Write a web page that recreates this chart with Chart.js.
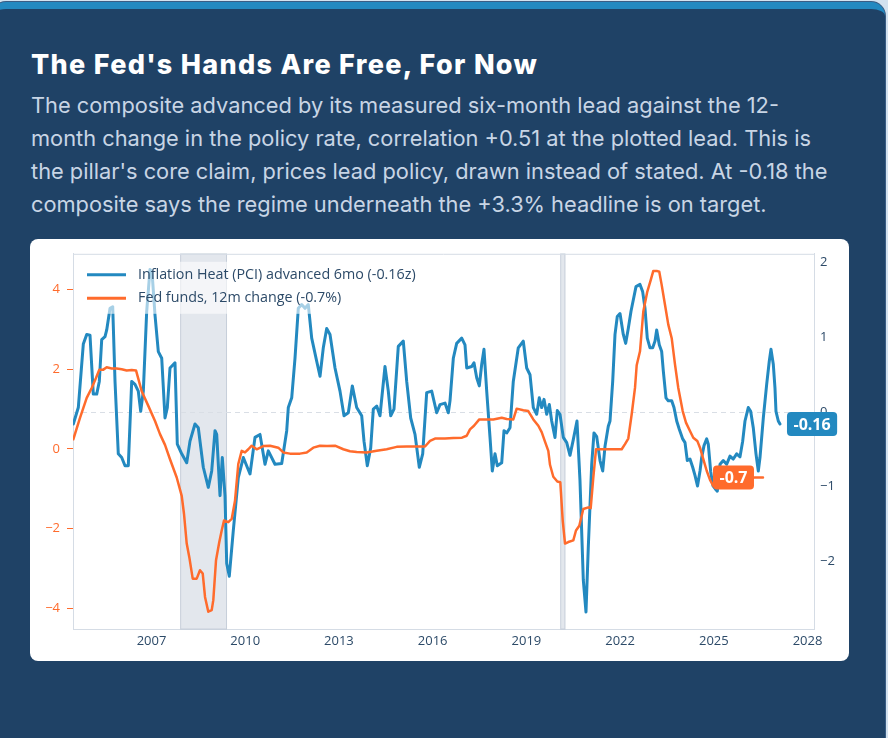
<!DOCTYPE html>
<html>
<head>
<meta charset="utf-8">
<script src="https://cdn.jsdelivr.net/npm/chart.js@4.4.1/dist/chart.umd.min.js"></script>
<style>
  html, body { margin: 0; padding: 0; }
  body { width: 888px; height: 738px; overflow: hidden; background: #d3e2ef; position: relative; font-family: Inter, "Open Sans", sans-serif; }
  .card { position: absolute; left: -8px; top: 2px; width: 893px; height: 780px; background: #1f4266; border-top: 7px solid #2389c0; border-radius: 14px; box-shadow: 0 0 0 1px #3a5d84; }
  h1 { position: absolute; left: 31px; top: 48px; margin: 0; font-size: 27px; font-weight: 800; color: #ffffff; white-space: nowrap; letter-spacing: 1.3px; }
  .sub { position: absolute; left: 31px; top: 89px; margin: 0; font-size: 21.8px; line-height: 33px; color: #c8d5e5; white-space: nowrap; }
  .chart-box { position: absolute; left: 30px; top: 239px; width: 819px; height: 422px; background: #ffffff; border-radius: 8px; }
</style>
</head>
<body>
<div class="card"></div>
<h1>The Fed's Hands Are Free, For Now</h1>
<p class="sub">The composite advanced by its measured six-month lead against the 12-<br>month change in the policy rate, correlation +0.51 at the plotted lead. This is<br>the pillar's core claim, prices lead policy, drawn instead of stated. At -0.18 the<br>composite says the regime underneath the +3.3% headline is on target.</p>
<div class="chart-box"><canvas id="leadChart"></canvas></div>

<script>
// Inflation Heat composite (z-score, advanced 6 months) - decimal years
const pciYears = [2004.497, 2004.657, 2004.817, 2004.926, 2005.031, 2005.137, 2005.246, 2005.329, 2005.406, 2005.512,
  2005.566, 2005.672, 2005.758, 2005.832, 2005.937, 2006.046, 2006.152, 2006.257, 2006.366, 2006.472,
  2006.577, 2006.654, 2006.738, 2006.846, 2006.952, 2007.016, 2007.112, 2007.218, 2007.327, 2007.432,
  2007.506, 2007.592, 2007.752, 2007.826, 2007.967, 2008.127, 2008.232, 2008.392, 2008.498, 2008.658,
  2008.818, 2008.927, 2009.033, 2009.087, 2009.193, 2009.266, 2009.353, 2009.407, 2009.490, 2009.618,
  2009.778, 2009.939, 2010.153, 2010.313, 2010.473, 2010.633, 2010.739, 2010.953, 2011.168, 2011.328,
  2011.379, 2011.488, 2011.593, 2011.699, 2011.808, 2011.914, 2012.019, 2012.128, 2012.288, 2012.394,
  2012.499, 2012.608, 2012.714, 2012.874, 2013.034, 2013.162, 2013.300, 2013.428, 2013.568, 2013.729,
  2013.802, 2013.908, 2014.017, 2014.100, 2014.209, 2014.314, 2014.474, 2014.580, 2014.657, 2014.762,
  2014.900, 2015.060, 2015.169, 2015.297, 2015.435, 2015.572, 2015.681, 2015.809, 2015.969, 2016.129,
  2016.235, 2016.395, 2016.501, 2016.555, 2016.661, 2016.769, 2016.930, 2017.035, 2017.090, 2017.250,
  2017.323, 2017.410, 2017.493, 2017.570, 2017.643, 2017.730, 2017.836, 2017.909, 2017.996, 2018.069,
  2018.210, 2018.284, 2018.370, 2018.476, 2018.581, 2018.741, 2018.901, 2019.010, 2019.116, 2019.222,
  2019.330, 2019.413, 2019.490, 2019.564, 2019.650, 2019.734, 2019.810, 2019.916, 2019.990, 2020.076,
  2020.182, 2020.291, 2020.396, 2020.502, 2020.620, 2020.716, 2020.822, 2020.908, 2020.982, 2021.091,
  2021.164, 2021.251, 2021.357, 2021.443, 2021.517, 2021.622, 2021.677, 2021.763, 2021.837, 2021.910,
  2021.997, 2022.102, 2022.179, 2022.262, 2022.349, 2022.422, 2022.509, 2022.637, 2022.723, 2022.797,
  2022.870, 2022.957, 2023.043, 2023.117, 2023.171, 2023.254, 2023.331, 2023.383, 2023.469, 2023.543,
  2023.652, 2023.725, 2023.812, 2023.895, 2024.004, 2024.078, 2024.151, 2024.237, 2024.324, 2024.397,
  2024.478, 2024.558, 2024.612, 2024.686, 2024.772, 2024.823, 2024.900, 2024.974, 2025.047, 2025.112,
  2025.198, 2025.303, 2025.412, 2025.518, 2025.623, 2025.732, 2025.838, 2025.924, 2025.998, 2026.103,
  2026.180, 2026.263, 2026.350, 2026.424, 2026.478, 2026.584, 2026.692, 2026.775, 2026.830, 2026.904,
  2026.958, 2026.990, 2027.064, 2027.118];
const pciValues = [-0.16, 0.06, 0.91, 1.04, 1.03, 0.24, 0.24, 0.41, 0.97, 1.01,
  1.10, 1.39, 1.41, 0.41, -0.56, -0.61, -0.72, -0.72, 0.41, 0.37,
  0.28, 0.01, 0.28, 1.35, 1.91, 1.88, 1.30, 0.81, 0.72, -0.08,
  0.06, 0.59, 0.66, -0.43, -0.56, -0.68, -0.39, -0.16, -0.21, -0.74,
  -1.01, -0.79, -0.25, -0.30, -1.12, -0.61, -1.12, -2.03, -2.20, -1.59,
  -0.88, -0.61, -0.83, -0.34, -0.30, -0.70, -0.52, -0.70, -0.69, -0.25,
  0.06, 0.19, 0.72, 1.39, 1.44, 1.39, 1.44, 0.99, 0.68, 0.48,
  0.86, 1.12, 1.04, 0.59, 0.28, -0.05, -0.01, 0.35, 0.06, -0.05,
  -0.39, -0.72, -0.48, 0.04, 0.08, -0.05, 0.61, 0.28, -0.05, 0.04,
  0.88, 0.95, 0.41, -0.08, -0.30, -0.74, -0.56, 0.26, 0.28, -0.01,
  0.10, 0.12, -0.01, 0.15, 0.72, 0.92, 0.99, 0.90, 0.59, 0.61,
  0.66, 0.46, 0.35, 0.64, 0.84, 0.28, -0.34, -0.79, -0.56, -0.72,
  -0.68, -0.25, -0.28, -0.21, 0.41, 0.86, 0.95, 0.59, 0.50, 0.06,
  -0.03, 0.19, 0.06, 0.17, -0.03, 0.10, -0.12, -0.34, 0.02, -0.03,
  -0.34, -0.41, -0.58, -0.37, -0.12, -0.92, -2.25, -2.68, -1.81, -0.70,
  -0.28, -0.33, -0.65, -0.79, -0.46, -0.19, -0.12, 0.41, 1.04, 1.28,
  1.32, 1.04, 0.92, 1.12, 1.35, 1.50, 1.68, 1.71, 1.61, 1.39,
  0.99, 0.86, 0.86, 0.95, 1.10, 0.90, 0.81, 0.55, 0.19, 0.15,
  0.15, 0.06, -0.12, -0.23, -0.36, -0.41, -0.65, -0.63, -0.74, -0.85,
  -0.99, -0.79, -0.61, -0.45, -0.36, -0.43, -0.80, -0.99, -1.03, -1.06,
  -0.70, -0.65, -0.70, -0.59, -0.63, -0.56, -0.60, -0.39, -0.12, 0.06,
  0.01, -0.21, -0.56, -0.79, -0.61, -0.08, 0.37, 0.68, 0.84, 0.64,
  0.32, 0.01, -0.12, -0.16];

// Fed funds rate, 12-month change (percentage points)
const fedYears = [2004.497, 2004.711, 2004.926, 2005.086, 2005.223, 2005.329, 2005.457, 2005.566, 2005.726, 2005.886,
  2006.046, 2006.206, 2006.366, 2006.504, 2006.686, 2006.898, 2007.112, 2007.272, 2007.432, 2007.592,
  2007.807, 2007.967, 2008.040, 2008.127, 2008.210, 2008.319, 2008.447, 2008.552, 2008.639, 2008.713,
  2008.818, 2008.927, 2008.978, 2009.065, 2009.170, 2009.247, 2009.321, 2009.458, 2009.567, 2009.673,
  2009.778, 2009.887, 2009.993, 2010.099, 2010.207, 2010.367, 2010.579, 2010.793, 2011.059, 2011.219,
  2011.433, 2011.753, 2011.968, 2012.179, 2012.394, 2012.618, 2012.874, 2013.140, 2013.354, 2013.568,
  2013.889, 2014.209, 2014.529, 2014.849, 2015.169, 2015.467, 2015.755, 2015.915, 2016.075, 2016.395,
  2016.661, 2016.939, 2017.090, 2017.195, 2017.323, 2017.493, 2017.730, 2017.941, 2018.210, 2018.370,
  2018.581, 2018.690, 2018.901, 2019.061, 2019.222, 2019.382, 2019.490, 2019.596, 2019.702, 2019.756,
  2019.862, 2019.990, 2020.086, 2020.163, 2020.237, 2020.342, 2020.502, 2020.588, 2020.694, 2020.822,
  2020.982, 2021.059, 2021.142, 2021.229, 2021.517, 2021.773, 2022.051, 2022.157, 2022.262, 2022.371,
  2022.477, 2022.531, 2022.637, 2022.743, 2022.871, 2022.980, 2023.063, 2023.172, 2023.254, 2023.331,
  2023.437, 2023.543, 2023.652, 2023.757, 2023.863, 2024.004, 2024.109, 2024.237, 2024.343, 2024.471,
  2024.558, 2024.663, 2024.772, 2024.878, 2024.983, 2025.102, 2025.358, 2025.678, 2025.998, 2026.318,
  2026.574];
const fedValues = [0.24, 0.78, 1.28, 1.53, 1.78, 1.99, 1.99, 2.05, 2.02, 2.02,
  2.00, 1.97, 1.98, 1.97, 1.45, 1.08, 0.70, 0.37, 0.10, -0.26,
  -0.72, -1.18, -1.63, -2.38, -2.72, -3.26, -3.26, -3.05, -3.13, -3.72,
  -4.09, -4.05, -3.80, -2.80, -2.34, -2.05, -1.80, -1.84, -1.76, -1.30,
  -0.38, -0.05, -0.09, -0.01, 0.08, -0.01, 0.07, 0.08, 0.03, -0.09,
  -0.12, -0.12, -0.09, 0.03, 0.08, 0.07, 0.08, -0.01, -0.06, -0.08,
  -0.09, -0.05, -0.01, 0.05, 0.06, 0.06, 0.06, 0.20, 0.26, 0.26,
  0.27, 0.28, 0.33, 0.49, 0.58, 0.74, 0.74, 0.74, 0.78, 0.75,
  0.74, 1.01, 0.97, 0.95, 0.74, 0.58, 0.42, 0.18, -0.05, -0.40,
  -0.70, -0.82, -0.84, -1.80, -2.38, -2.34, -2.30, -2.05, -1.93, -1.51,
  -1.47, -1.49, -0.72, -0.01, -0.01, -0.01, -0.01, 0.12, 0.26, 0.87,
  1.53, 2.10, 2.45, 3.45, 3.95, 4.24, 4.47, 4.47, 4.45, 4.12,
  3.62, 3.12, 2.78, 2.12, 1.53, 0.95, 0.66, 0.45, 0.28, 0.20,
  0.03, -0.26, -0.55, -0.78, -0.93, -0.95, -0.88, -0.80, -0.74, -0.72,
  -0.72];

// NBER recessions (shaded)
const recessionStarts = [2007.917, 2020.083];
const recessionEnds = [2009.417, 2020.25];

// Axis ticks
const xTicks = [2007, 2010, 2013, 2016, 2019, 2022, 2025, 2028];
const leftTicks = [-4, -2, 0, 2, 4];
const rightTicks = [-2, -1, 0, 1, 2];

const BLUE = '#2389c0';
const ORANGE = '#ff6b2c';
const FRAME = '#d5dce5';
const INK = '#2c4a68';
const FONT = '"Open Sans", "Noto Sans", sans-serif';

function minus(v) {
  return v < 0 ? '\u2212' + Math.abs(v) : String(v);
}

function toPoints(xs, ys) {
  return xs.map((x, i) => ({ x: x, y: ys[i] }));
}

// Shading, zero line, legend and end labels
const overlayPlugin = {
  id: 'overlay',
  beforeDatasetsDraw(chart) {
    const { ctx, chartArea: a, scales } = chart;
    ctx.save();
    recessionStarts.forEach((s, i) => {
      const x0 = scales.x.getPixelForValue(s);
      const x1 = scales.x.getPixelForValue(recessionEnds[i]);
      ctx.fillStyle = 'rgba(148,163,184,0.26)';
      ctx.fillRect(x0, a.top, x1 - x0, a.bottom - a.top);
      ctx.strokeStyle = 'rgba(148,163,184,0.35)';
      ctx.lineWidth = 1;
      ctx.strokeRect(x0 + 0.5, a.top, x1 - x0 - 1, a.bottom - a.top);
    });
    const y0 = Math.round(scales.yR.getPixelForValue(0)) + 0.5;
    ctx.setLineDash([5, 4]);
    ctx.strokeStyle = '#d9dee5';
    ctx.lineWidth = 1;
    ctx.beginPath();
    ctx.moveTo(a.left, y0);
    ctx.lineTo(a.right, y0);
    ctx.stroke();
    ctx.restore();
  },
  afterDatasetsDraw(chart) {
    const { ctx, chartArea: a } = chart;
    ctx.save();

    // top frame line
    ctx.strokeStyle = FRAME;
    ctx.lineWidth = 1;
    ctx.beginPath();
    ctx.moveTo(a.left, a.top + 0.5);
    ctx.lineTo(a.right, a.top + 0.5);
    ctx.stroke();

    // legend
    ctx.font = '14.3px ' + FONT;
    const entries = chart.data.datasets.map(ds => ({ label: ds.label, color: ds.borderColor }));
    let textW = 0;
    entries.forEach(e => { textW = Math.max(textW, ctx.measureText(e.label).width); });
    const bx = a.left + 7, by = a.top + 8;
    ctx.fillStyle = 'rgba(255,255,255,0.6)';
    ctx.fillRect(bx, by, 65 - 7 + textW + 8, 52);
    entries.forEach((e, i) => {
      const ly = a.top + 21 + i * 23.5;
      ctx.strokeStyle = e.color;
      ctx.lineWidth = 3;
      ctx.beginPath();
      ctx.moveTo(a.left + 14, ly);
      ctx.lineTo(a.left + 53, ly);
      ctx.stroke();
      ctx.fillStyle = INK;
      ctx.textBaseline = 'middle';
      ctx.textAlign = 'left';
      ctx.fillText(e.label, a.left + 65, ly);
    });

    // end-of-series value tags
    ctx.font = 'bold 16px ' + FONT;
    chart.data.datasets.forEach((ds, i) => {
      const pts = chart.getDatasetMeta(i).data;
      const last = pts[pts.length - 1];
      const val = ds.data[ds.data.length - 1].y;
      const txt = val.toFixed(ds.tagDigits);
      const w = ctx.measureText(txt).width + 13;
      const h = 24;
      const left = ds.tagSide === 'right' ? last.x + 7 : last.x - 9 - w;
      ctx.fillStyle = ds.borderColor;
      ctx.beginPath();
      ctx.roundRect(left, last.y - h / 2, w, h, 4);
      ctx.fill();
      ctx.fillStyle = '#ffffff';
      ctx.textAlign = 'center';
      ctx.textBaseline = 'middle';
      ctx.fillText(txt, left + w / 2, last.y + 1);
    });
    ctx.restore();
  }
};

const ctx = document.getElementById('leadChart').getContext('2d');
const leadChart = new Chart(ctx, {
  type: 'line',
  data: {
    datasets: [{
      label: 'Inflation Heat (PCI) advanced 6mo (-0.16z)',
      data: toPoints(pciYears, pciValues),
      yAxisID: 'yR',
      borderColor: BLUE,
      borderWidth: 3,
      pointRadius: 0,
      tension: 0,
      order: 1,
      tagDigits: 2,
      tagSide: 'right'
    }, {
      label: 'Fed funds, 12m change (-0.7%)',
      data: toPoints(fedYears, fedValues),
      yAxisID: 'yL',
      borderColor: ORANGE,
      borderWidth: 2.5,
      pointRadius: 0,
      tension: 0,
      order: 0,
      tagDigits: 1,
      tagSide: 'left'
    }]
  },
  options: {
    responsive: true,
    maintainAspectRatio: false,
    animation: false,
    layout: { padding: { top: 13, left: 0, right: 0, bottom: 0 } },
    plugins: {
      legend: { display: false },
      tooltip: { enabled: false }
    },
    elements: { line: { borderJoinStyle: 'round', borderCapStyle: 'round' } },
    scales: {
      x: {
        type: 'linear',
        min: 2004.487,
        max: 2028.207,
        grid: { display: false, drawTicks: false },
        border: { display: true, color: FRAME },
        ticks: { color: INK, font: { family: FONT, size: 13 }, padding: 4, maxRotation: 0,
          callback: v => String(v) },
        afterBuildTicks: scale => { scale.ticks = xTicks.map(v => ({ value: v })); },
        afterFit: scale => { scale.height = 32; }
      },
      yL: {
        type: 'linear',
        position: 'left',
        min: -4.525,
        max: 4.9,
        grid: { display: true, drawOnChartArea: false, drawTicks: true, tickLength: 6, tickColor: ORANGE },
        border: { display: true, color: FRAME },
        ticks: { color: ORANGE, font: { family: FONT, size: 13 }, padding: 7, callback: v => minus(v) },
        afterBuildTicks: scale => { scale.ticks = leftTicks.map(v => ({ value: v })); },
        afterFit: scale => { scale.width = 43; }
      },
      yR: {
        type: 'linear',
        position: 'right',
        min: -2.907,
        max: 2.12,
        grid: { display: false, drawTicks: false },
        border: { display: true, color: FRAME },
        ticks: { color: INK, font: { family: FONT, size: 13 }, padding: 6, callback: v => minus(v) },
        afterBuildTicks: scale => { scale.ticks = rightTicks.map(v => ({ value: v })); },
        afterFit: scale => { scale.width = 35; }
      }
    }
  },
  plugins: [overlayPlugin]
});
</script>
</body>
</html>
